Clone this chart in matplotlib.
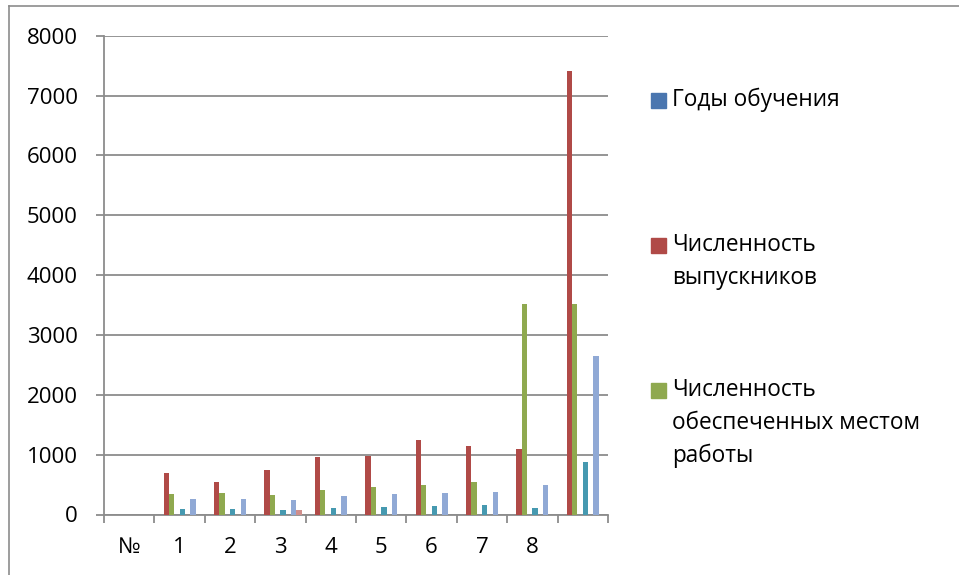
import numpy as np
import matplotlib.pyplot as plt
from matplotlib.lines import Line2D
from matplotlib.patches import Rectangle

plt.rcParams['font.family'] = ['Open Sans', 'DejaVu Sans']

# categories (last one has no label)
categories = ['№', '1', '2', '3', '4', '5', '6', '7', '8', '']

# series values
years = [0, 0, 0, 0, 0, 0, 0, 0, 0, 0]
graduates = [0, 700, 545, 750, 958, 978, 1250, 1140, 1095, 7415]
employed = [0, 343, 360, 326, 415, 460, 488, 538, 3520, 3520]
series4 = [0, 0, 0, 0, 0, 0, 0, 0, 0, 0]
series5 = [0, 87, 92, 70, 114, 120, 142, 159, 103, 873]
series6 = [0, 0, 0, 0, 0, 0, 0, 0, 0, 0]
series7 = [0, 254, 264, 248, 309, 348, 354, 376, 488, 2650]
series8 = [0, 0, 0, 75, 0, 0, 0, 0, 0, 0]

series = [years, graduates, employed, series4, series5, series6, series7, series8]
colors = ['#4A76AF', '#B04A47', '#8FA94F', '#7A5F9C',
          '#4699B0', '#E8893F', '#90A9D5', '#D08E8B']
legend_names = ['Годы обучения', 'Численность\nвыпускников',
                'Численность\nобеспеченных местом\nработы']

fig = plt.figure(figsize=(9.59, 5.75), dpi=100)
ax = fig.add_axes([104 / 959, 60.5 / 575, 504 / 959, 478.7 / 575])

n = len(series)
gap = 1.5  # excel default gap width 150%
w = 1 / (n + gap)
x = np.arange(len(categories))
for j, (vals, c) in enumerate(zip(series, colors)):
    ax.bar(x + (gap / 2 + j + 0.5) * w, vals, width=w, color=c, align='center', zorder=3)

axis_col = '#8C8C8C'
ax.set_xlim(0, len(categories))
ax.set_ylim(0, 8000)
ax.set_yticks(range(0, 8001, 1000))
ax.yaxis.grid(True, color=axis_col, linewidth=1.3, zorder=0)

ax.set_xticks(np.arange(len(categories) + 1))
ax.set_xticklabels([])
ax.set_xticks(x + 0.5, minor=True)
ax.set_xticklabels(categories, minor=True)

for s in ['top', 'right']:
    ax.spines[s].set_visible(False)
for s in ['left', 'bottom']:
    ax.spines[s].set_color(axis_col)
    ax.spines[s].set_linewidth(1.3)

ax.tick_params(axis='both', which='major', direction='out', length=5.8, width=1.3,
               color=axis_col, labelsize=16, labelcolor='black')
ax.tick_params(axis='y', which='major', pad=13)
ax.tick_params(axis='x', which='minor', length=0, pad=16, labelsize=16)

# legend drawn by hand (only the first three series are listed)
line_h = 33
first_lines = [100, 245, 390]
for name, c, y0 in zip(legend_names, colors[:3], first_lines):
    fig.add_artist(Rectangle((651 / 959, 1 - (y0 + 7.5) / 575), 15 / 959, 15 / 575,
                             transform=fig.transFigure, color=c))
    for k, line in enumerate(name.split('\n')):
        fig.text(672 / 959, 1 - (y0 + k * line_h) / 575, line, fontsize=16.3,
                 va='center', ha='left')

# outer frame (left and top edges)
fig.add_artist(Line2D([8.5 / 959, 8.5 / 959], [0, 1 - 6 / 575], color='#8C8C8C', lw=1.2))
fig.add_artist(Line2D([8.5 / 959, 1], [1 - 6 / 575, 1 - 6 / 575], color='#8C8C8C', lw=1.2))

fig.savefig('out.png', dpi=100)
